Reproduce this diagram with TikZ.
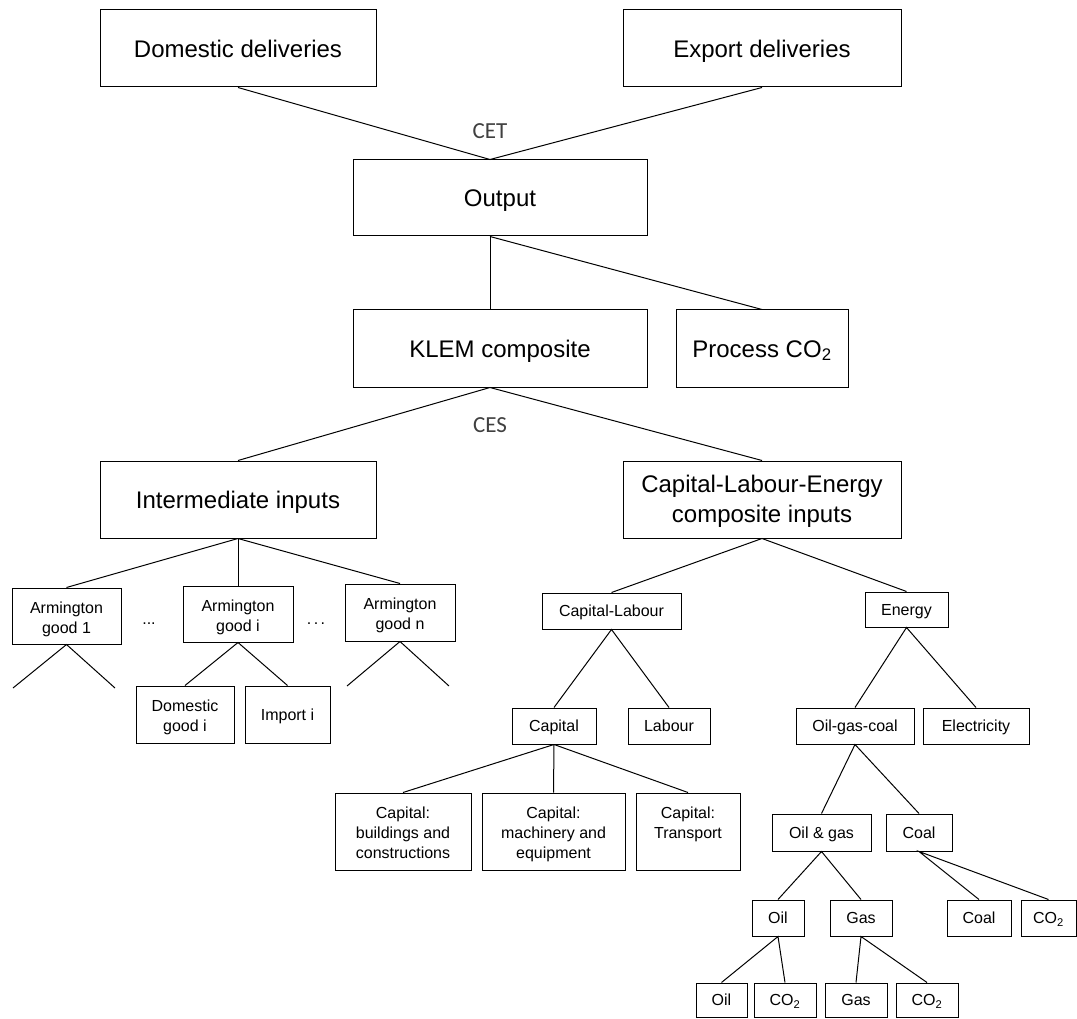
\documentclass[tikz,border=0pt]{standalone}
\usepackage{fontspec}
\setmainfont{Liberation Sans}
\newfontfamily\calibfont{Carlito}
\definecolor{lblgray}{HTML}{404040}
\begin{document}
\begin{tikzpicture}[x=1pt,y=-1pt,line width=1pt,
  bx/.style={draw,inner sep=0pt,align=center,line width=1pt},
  big/.style={font=\fontsize{24}{30}\selectfont},
  sml/.style={font=\fontsize{16}{20}\selectfont},
  bigone/.style={big,text height=17.3pt,text depth=0pt},
  smlone/.style={sml,text height=11.5pt,text depth=0pt},
  lbl/.style={font=\calibfont\fontsize{23}{26}\selectfont,text=lblgray,inner sep=0pt}]
\useasboundingbox (0,0) rectangle (1077,1019);
% top level
\node[bx,bigone,minimum width=276pt,minimum height=77pt] (dd) at (238,48.5) {Domestic deliveries};
\node[bx,bigone,minimum width=278pt,minimum height=77pt] (ed) at (762,48.5) {Export deliveries};
\node[bx,bigone,minimum width=294pt,minimum height=76pt] (out) at (500,198) {Output};
\node[bx,bigone,minimum width=294pt,minimum height=77pt] (klem) at (500,348.5) {KLEM composite};
\node[bx,bigone,minimum width=172pt,minimum height=77pt] (pco) at (762,348.5) {Process CO\textsubscript{2}};
\node[bx,bigone,minimum width=276pt,minimum height=77pt] (ii) at (238,499.5) {Intermediate inputs};
\node[bx,big,minimum width=278pt,minimum height=77pt] (cle) at (762,499.5) {};
\node[big,align=center,inner sep=0pt,yshift=-2pt] (clet) at (cle) {Capital-Labour-Energy\\composite inputs};
\node[lbl] (cet) at (490,131) {CET};
\node[lbl] (ces) at (490,425) {CES};
% Armington
\node[bx,minimum width=109pt,minimum height=56pt] (a1) at (66.5,616) {};
\node[sml,align=center,inner sep=0pt,yshift=-3pt] (a1t) at (a1) {Armington\\good 1};
\node[bx,minimum width=110pt,minimum height=56pt] (ai) at (238,614) {};
\node[sml,align=center,inner sep=0pt,yshift=-3pt] (ait) at (ai) {Armington\\good i};
\node[bx,minimum width=110pt,minimum height=57pt] (an) at (400,612.5) {};
\node[sml,align=center,inner sep=0pt,yshift=-3pt] (ant) at (an) {Armington\\good n};
\node[sml,anchor=base,inner sep=0pt] (d1) at (149,624) {...};
\node[sml,anchor=base,inner sep=0pt] (d2) at (316,624) {.\kern2.5pt.\kern2.5pt.};
\node[bx,minimum width=98pt,minimum height=57pt] (dgi) at (185,714.5) {};
\node[sml,align=center,inner sep=0pt,yshift=-3pt] (dgit) at (dgi) {Domestic\\good i};
\node[bx,smlone,minimum width=85pt,minimum height=57pt] (imp) at (287.5,714.5) {Import i};
\coordinate (a1l) at (13,688);
\coordinate (a1r) at (115,688);
\coordinate (anl) at (347,686);
\coordinate (anr) at (449,686);
% capital labour
\node[bx,smlone,minimum width=139pt,minimum height=36pt] (cl) at (611.5,611) {Capital-Labour};
\node[bx,smlone,minimum width=83pt,minimum height=35pt] (en) at (906.5,609.5) {Energy};
\node[bx,smlone,minimum width=84pt,minimum height=36pt] (cap) at (554,726) {Capital};
\node[bx,smlone,minimum width=82pt,minimum height=36pt] (lab) at (669,726) {Labour};
\node[bx,smlone,minimum width=118pt,minimum height=36pt] (ogc) at (855,726) {Oil-gas-coal};
\node[bx,smlone,minimum width=106pt,minimum height=36pt] (ele) at (976,726) {Electricity};
\node[bx,minimum width=136pt,minimum height=77pt] (cb) at (403,831.5) {};
\node[sml,align=center,inner sep=0pt,yshift=-1pt] (cbt) at (cb) {Capital:\\buildings and\\constructions};
\node[bx,minimum width=143pt,minimum height=77pt] (cm) at (553.5,831.5) {};
\node[sml,align=center,inner sep=0pt,yshift=-2.5pt] (cmt) at (cm) {Capital:\\machinery and\\equipment};
\node[bx,minimum width=104pt,minimum height=77pt] (ct) at (688,831.5) {};
\node[sml,align=center,inner sep=0pt,yshift=-1pt] (ctt) at (ct) {Capital:\\Transport\\\mbox{}};
% energy
\node[bx,smlone,minimum width=99pt,minimum height=37pt] (og) at (821.5,832.5) {Oil \& gas};
\node[bx,smlone,minimum width=66pt,minimum height=37pt] (co) at (919,832.5) {Coal};
\node[bx,smlone,minimum width=52pt,minimum height=36pt] (oil) at (778,918) {Oil};
\node[bx,smlone,minimum width=62pt,minimum height=36pt] (gas) at (861,918) {Gas};
\node[bx,smlone,minimum width=64pt,minimum height=36pt] (coall) at (979,918) {Coal};
\node[bx,smlone,minimum width=55pt,minimum height=36pt] (co2c) at (1048.5,918) {CO\textsubscript{2}};
\node[bx,smlone,minimum width=51pt,minimum height=34pt] (oill) at (721.5,1000) {Oil};
\node[bx,smlone,minimum width=62pt,minimum height=34pt] (co2o) at (785,1000) {CO\textsubscript{2}};
\node[bx,smlone,minimum width=62pt,minimum height=34pt] (gasl) at (856,1000) {Gas};
\node[bx,smlone,minimum width=62pt,minimum height=34pt] (co2g) at (927,1000) {CO\textsubscript{2}};
% connectors
\draw (dd.south) -- ([xshift=-10pt]out.north) -- (ed.south);
\draw ([xshift=-10pt]out.south) -- ([xshift=-10pt]klem.north);
\draw ([xshift=-10pt]out.south) -- (pco.north);
\draw (ii.north) -- ([xshift=-10pt]klem.south) -- (cle.north);
\draw (ii.south) -- (a1.north);
\draw (ii.south) -- (ai.north);
\draw (ii.south) -- (an.north);
\draw (a1l) -- (a1.south) -- (a1r);
\draw (anl) -- (an.south) -- (anr);
\draw (dgi.north) -- (ai.south) -- (imp.north);
\draw (cl.north) -- (cle.south) -- (en.north);
\draw (cap.north) -- (cl.south) -- (lab.north);
\draw (ogc.north) -- (en.south) -- (ele.north);
\draw (cap.south) -- (cb.north);
\draw (cap.south) -- (cm.north);
\draw (cap.south) -- (ct.north);
\draw (og.north) -- (ogc.south) -- (co.north);
\draw (oil.north) -- (og.south) -- (gas.north);
\draw (coall.north) -- (co.south) -- (co2c.north);
\draw (oill.north) -- (oil.south) -- (co2o.north);
\draw (gasl.north) -- (gas.south) -- (co2g.north);
\end{tikzpicture}
\end{document}
